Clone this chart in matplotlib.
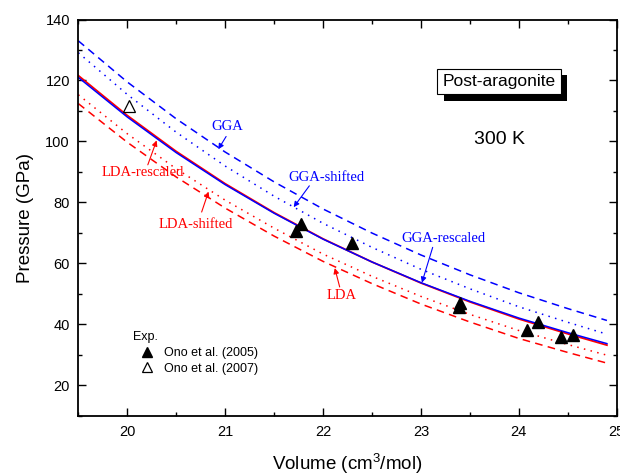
import matplotlib
matplotlib.use('Agg')
import matplotlib.pyplot as plt
import matplotlib.patheffects as pe

plt.rcParams['font.family'] = ['Liberation Sans', 'DejaVu Sans']
plt.rcParams['mathtext.fontset'] = 'custom'
plt.rcParams['mathtext.rm'] = 'Liberation Sans'
plt.rcParams['mathtext.it'] = 'Liberation Sans'

#Volume grid (cm^3/mol) and pressures (GPa)
volume = [19.5, 20.0, 20.5, 21.0, 21.5, 22.0, 22.5, 23.0, 23.5, 24.0, 24.5, 24.9]
lda_rescaled = [121.6, 108.5, 96.7, 86.1, 76.6, 68.0, 60.4, 53.5, 47.3, 41.7, 36.8, 33.1]
gga_rescaled = [121.0, 108.0, 96.3, 85.8, 76.4, 67.9, 60.4, 53.6, 47.5, 42.0, 37.2, 33.6]
gga = [133.0, 119.5, 107.4, 96.5, 86.7, 77.8, 69.9, 62.7, 56.2, 50.3, 45.1, 41.2]
gga_shifted = [129.1, 115.4, 103.0, 91.9, 82.0, 73.1, 65.2, 58.0, 51.6, 45.7, 40.6, 36.7]
lda_shifted = [115.3, 102.5, 91.0, 80.7, 71.5, 63.0, 55.7, 49.1, 43.2, 37.9, 33.3, 29.8]
lda = [112.4, 99.7, 88.3, 78.1, 68.9, 60.6, 53.3, 46.6, 40.7, 35.3, 30.7, 27.2]

#Experimental points
ono2005_v = [21.72, 21.77, 22.30, 23.39, 23.40, 24.08, 24.20, 24.43, 24.55]
ono2005_p = [70.5, 72.8, 66.7, 45.6, 47.0, 38.0, 40.6, 35.8, 36.4]
ono2007_v = [20.02]
ono2007_p = [111.5]

#Curve labels: (text, colour, text pos, arrow tail, arrow tip)
labels = [
    ('GGA', 'blue', (21.02, 104.9), (21.01, 101.6), (20.93, 97.4)),
    ('GGA-shifted', 'blue', (22.03, 88.1), (21.86, 85.4), (21.70, 78.4)),
    ('GGA-rescaled', 'blue', (23.23, 68.1), (23.12, 65.2), (23.01, 53.6)),
    ('LDA-rescaled', 'red', (20.16, 89.9), (20.21, 92.3), (20.30, 100.3)),
    ('LDA-shifted', 'red', (20.70, 72.7), (20.76, 76.8), (20.83, 83.5)),
    ('LDA', 'red', (22.19, 49.3), (22.17, 52.2), (22.12, 58.4)),
]

fig = plt.figure(figsize=(6.2, 4.76), dpi=100)
ax = fig.add_axes([0.1263, 0.1271, 0.8684, 0.8319])

lw = 1.1
ax.plot(volume, gga, color='blue', lw=lw, linestyle=(0, (5, 3.5)))
ax.plot(volume, gga_shifted, color='blue', lw=lw, linestyle=(0, (1, 3.5)))
ax.plot(volume, lda_shifted, color='red', lw=lw, linestyle=(0, (1, 3.5)))
ax.plot(volume, lda, color='red', lw=lw, linestyle=(0, (5, 3.5)))
ax.plot(volume, lda_rescaled, color='red', lw=1.3)
ax.plot(volume, gga_rescaled, color='blue', lw=1.1)

ax.plot(ono2005_v, ono2005_p, linestyle='none', marker='^', ms=9,
        color='k', label='Ono et al. (2005)')
ax.plot(ono2007_v, ono2007_p, linestyle='none', marker='^', ms=9,
        mfc='white', mec='k', mew=0.9, label='Ono et al. (2007)')

#Curve annotations with arrows
for text, col, tpos, tail, tip in labels:
    ax.text(tpos[0], tpos[1], text, color=col, fontsize=10.5,
            family='Liberation Serif', ha='center', va='center')
    ax.annotate('', xy=tip, xytext=tail,
                arrowprops=dict(arrowstyle='-|>', color=col, lw=0.8,
                                mutation_scale=8, shrinkA=0, shrinkB=0))

#Box with shadow
t = ax.text(23.80, 119.6, 'Post-aragonite', fontsize=12.5, ha='center',
            va='center',
            bbox=dict(boxstyle='square,pad=0.3', fc='white', ec='k', lw=0.8))
t.get_bbox_patch().set_path_effects([
    pe.withSimplePatchShadow(offset=(4.5, -4.5), shadow_rgbFace='k', alpha=1.0)])
ax.text(23.80, 100.7, '300 K', fontsize=14, ha='center', va='center')

#Legend
leg = ax.legend(title='Exp.', loc='upper left', bbox_to_anchor=(0.085, 0.235),
                frameon=False, fontsize=9, title_fontsize=9, handlelength=2.2,
                handletextpad=0.3, labelspacing=0.3, borderpad=0.2,
                alignment='left', markerscale=0.8)

ax.set_xlim(19.5, 25)
ax.set_ylim(10, 140)
ax.set_xticks([20, 21, 22, 23, 24, 25])
ax.set_xticks([19.5, 20.5, 21.5, 22.5, 23.5, 24.5], minor=True)
ax.set_yticks([20, 40, 60, 80, 100, 120, 140])
ax.set_yticks([10, 30, 50, 70, 90, 110, 130], minor=True)
ax.tick_params(which='both', direction='in', top=True, right=True,
               width=1.0, labelsize=10.5)
ax.tick_params(which='major', length=5.8)
ax.tick_params(which='minor', length=3)
ax.tick_params(axis='x', pad=7)
ax.tick_params(axis='y', pad=6)
for s in ax.spines.values():
    s.set_linewidth(1.3)

ax.set_xlabel('Volume (cm$^3$/mol)', fontsize=13.5, labelpad=9)
ax.set_ylabel('Pressure (GPa)', fontsize=13.5, labelpad=8.5)

plt.savefig('out.png', dpi=100)
plt.close()
